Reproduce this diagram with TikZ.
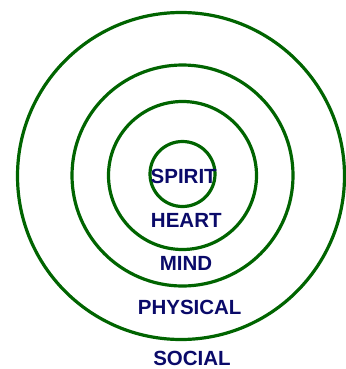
\documentclass[tikz,border=0pt]{standalone}
\usepackage{fontspec}
\setmainfont{Liberation Sans}
\usepackage{tikz}
\definecolor{ringgreen}{RGB}{0,100,0}
\definecolor{wordnavy}{RGB}{10,10,105}

\begin{document}
\begin{tikzpicture}[x=1pt, y=-1pt,
    ring/.style={circle, draw=ringgreen, line width=3.2pt, inner sep=0pt},
    word/.style={text=wordnavy, font=\fontsize{20.5}{24}\selectfont\bfseries, inner sep=0pt, anchor=center}]
\useasboundingbox (0,0) rectangle (345,369);
\node[ring, minimum size=327pt] (social) at (181,176) {};
\node[ring, minimum size=221pt] (physical) at (182.5,175.5) {};
\node[ring, minimum size=148pt] (mind) at (182.5,175.5) {};
\node[ring, minimum size=65pt] (spirit) at (182.5,174) {};

\node[word] (spiritlbl) at (183.7,176) {SPIRIT};
\node[word] (heartlbl) at (186.3,220) {HEART};
\node[word] (mindlbl) at (186,263.8) {MIND};
\node[word] (physicallbl) at (189.7,307.8) {PHYSICAL};
\node[word] (sociallbl) at (192,358.3) {SOCIAL};
\end{tikzpicture}
\end{document}
